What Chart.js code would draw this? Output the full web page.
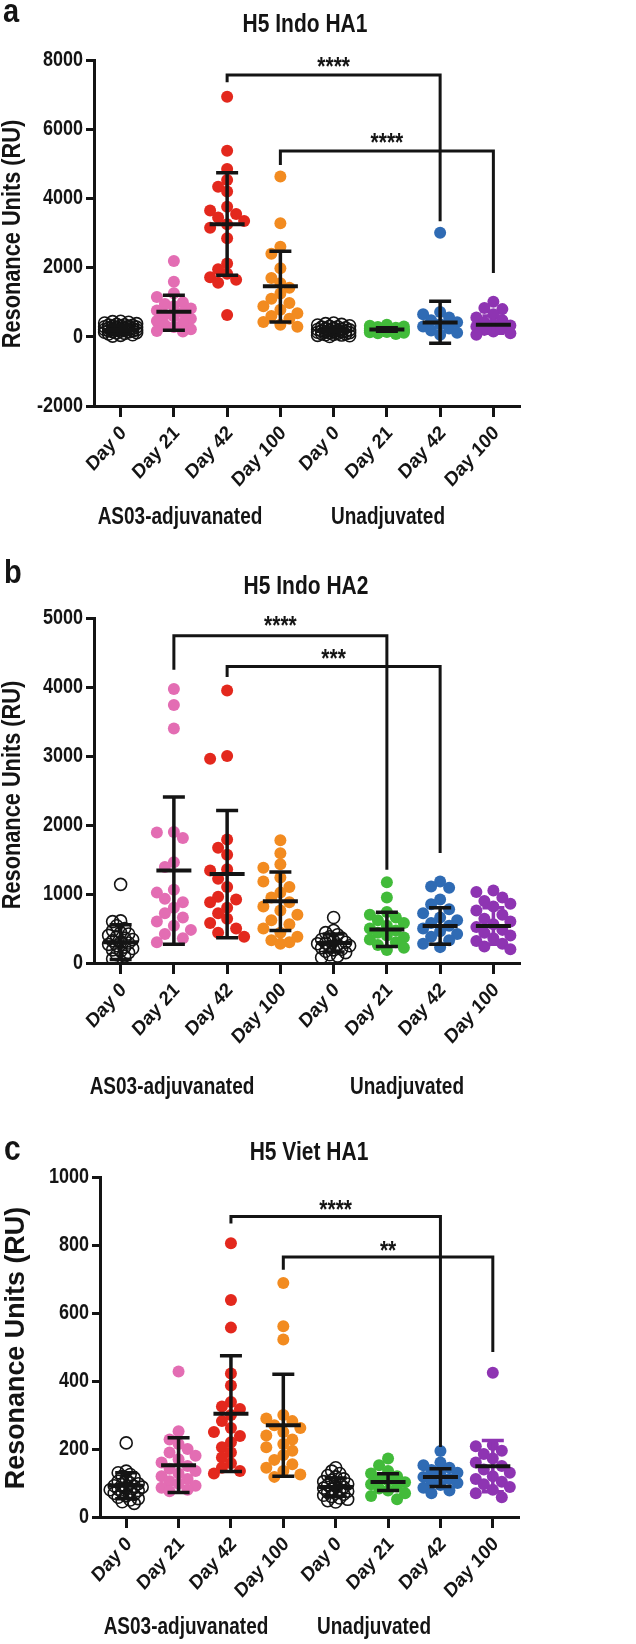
<!DOCTYPE html>
<html>
<head>
<meta charset="utf-8">
<script src="https://cdn.jsdelivr.net/npm/chart.js@4.4.1/dist/chart.umd.min.js"></script>
<style>
  html, body { margin: 0; padding: 0; background: #fff; }
  #wrap { position: relative; width: 636px; height: 1644px; }
  #wrap canvas { position: absolute; left: 0; }
</style>
</head>
<body>
<div id="wrap">
  <canvas id="pa" width="636" height="550" style="top:0px"></canvas>
  <canvas id="pb" width="636" height="555" style="top:550px"></canvas>
  <canvas id="pc" width="636" height="539" style="top:1105px"></canvas>
</div>
<script>
/* Resonance units per group */

// ── categories ───────────────────────────────────────────────────────────
var days   = ['Day 0', 'Day 21', 'Day 42', 'Day 100', 'Day 0', 'Day 21', 'Day 42', 'Day 100'];
var groups = ['AS03-adjuvanated', 'Unadjuvated'];

// ── a: H5 Indo HA1 ───────────────────────────────────────────────────────
var ha1Adj0   = [450, 440, 420, 400, 380, 360, 350, 340, 330, 320, 310, 300, 290, 280, 270, 260, 250, 240, 235, 230, 220, 210, 200, 190, 185, 180, 170, 160, 150, 140, 130, 120, 110, 100, 80, 60, 40, 20];
var ha1Adj21  = [2190, 1590, 1260, 1150, 1000, 950, 880, 820, 760, 700, 640, 590, 520, 460, 400, 340, 280, 220, 170, 150];
var ha1Adj42  = [6940, 5380, 4850, 4530, 4340, 4200, 3760, 3650, 3550, 3450, 3350, 3250, 3150, 2850, 2120, 1950, 1820, 1720, 1650, 1560, 630];
var ha1Adj100 = [4630, 3280, 2600, 2400, 1980, 1700, 1550, 1420, 1250, 1100, 980, 880, 780, 680, 600, 520, 430, 350, 290];
var ha1Un0    = [400, 380, 360, 340, 320, 300, 290, 280, 260, 250, 240, 225, 210, 200, 195, 180, 170, 160, 150, 145, 140, 130, 120, 110, 100, 90, 80, 70, 60, 50, 40, 30, 10];
var ha1Un21   = [350, 320, 300, 280, 260, 245, 230, 220, 210, 200, 190, 180, 170, 160, 150, 140, 130, 120, 100, 80];
var ha1Un42   = [3010, 720, 650, 560, 480, 420, 360, 300, 240, 180, 120, 60];
var ha1Un100  = [1010, 830, 800, 650, 560, 480, 420, 370, 330, 300, 250, 200, 150, 100, 60];
var ha1Mean   = [200, 723, 3250, 1460, 165, 210, 410, 350];
var ha1SdHi   = [320, 1200, 4740, 2470, 280, 260, 1030, 600];
var ha1SdLo   = [80, 190, 1780, 430, 50, 160, -190, 100];
var ha1Ticks  = [-2000, 8000, 2000];   // min, max, step

// ── b: H5 Indo HA2 ───────────────────────────────────────────────────────
var ha2Adj0   = [1140, 610, 600, 540, 500, 470, 440, 420, 400, 380, 360, 340, 320, 300, 290, 270, 250, 230, 210, 190, 170, 150, 120, 100, 60];
var ha2Adj21  = [3970, 3740, 3400, 1900, 1890, 1810, 1460, 1390, 1060, 1020, 930, 880, 800, 720, 660, 600, 540, 480, 420, 360, 300];
var ha2Adj42  = [3950, 3000, 2960, 1790, 1670, 1570, 1360, 1340, 1220, 1100, 960, 920, 880, 800, 720, 640, 580, 500, 440, 380];
var ha2Adj100 = [1780, 1590, 1430, 1380, 1240, 1180, 1100, 1020, 950, 880, 820, 760, 700, 620, 560, 500, 440, 380, 330, 300, 280];
var ha2Un0    = [660, 470, 440, 410, 380, 360, 340, 320, 300, 290, 280, 260, 250, 240, 220, 200, 190, 170, 150, 120, 100, 80];
var ha2Un21   = [1170, 950, 740, 700, 660, 620, 580, 540, 500, 470, 440, 400, 370, 340, 300, 260, 220, 190];
var ha2Un42   = [1180, 1110, 1090, 920, 850, 780, 720, 660, 620, 580, 540, 500, 460, 420, 380, 330, 280, 230];
var ha2Un100  = [1050, 1030, 950, 900, 860, 820, 760, 700, 640, 600, 560, 520, 480, 440, 400, 360, 320, 280, 240, 200];
var ha2Mean   = [300, 1340, 1290, 895, 290, 485, 535, 535];
var ha2SdHi   = [555, 2405, 2210, 1320, 420, 735, 800, 800];
var ha2SdLo   = [50, 270, 365, 470, 160, 240, 270, 270];
var ha2Ticks  = [0, 5000, 1000];

// ── c: H5 Viet HA1 ───────────────────────────────────────────────────────
var vhaAdj0   = [218, 135, 130, 125, 120, 115, 110, 105, 100, 98, 95, 92, 90, 88, 85, 82, 80, 78, 75, 72, 70, 66, 62, 58, 54, 50, 45, 40];
var vhaAdj21  = [428, 252, 228, 215, 200, 190, 180, 170, 160, 150, 142, 135, 128, 120, 112, 105, 98, 92, 86, 80, 76];
var vhaAdj42  = [805, 638, 557, 422, 387, 338, 325, 318, 300, 282, 262, 250, 238, 220, 205, 190, 175, 158, 145, 135, 128];
var vhaAdj100 = [688, 561, 522, 300, 290, 282, 270, 262, 250, 240, 228, 215, 205, 195, 182, 168, 155, 145, 135, 125, 118];
var vhaUn0    = [145, 135, 128, 122, 118, 112, 108, 104, 100, 97, 94, 91, 88, 85, 82, 79, 76, 73, 70, 67, 64, 60, 56, 52, 48, 44];
var vhaUn21   = [172, 152, 135, 128, 120, 114, 108, 102, 96, 90, 84, 78, 70, 62, 52];
var vhaUn42   = [194, 160, 152, 145, 138, 130, 124, 118, 112, 106, 100, 94, 86, 78, 70];
var vhaUn100  = [424, 212, 208, 195, 185, 172, 160, 150, 140, 130, 120, 112, 104, 96, 88, 80, 70, 58];
var vhaMean   = [92, 152, 304, 270, 88, 103, 118, 149];
var vhaSdHi   = [130, 233, 474, 420, 115, 127, 142, 225];
var vhaSdLo   = [54, 72, 134, 120, 61, 78, 90, 74];
var vhaTicks  = [0, 1000, 200];

// significance brackets: [from group, to group, top, left leg end, right leg end, stars, stars y]
var ha1Sig = [[2, 6, 7565, 7354, 3342, '****', 7933], [3, 7, 5371, 4966, 1846, '****', 5710]];
var ha2Sig = [[1, 5, 4743, 4250, 1352, '****', 4946], [2, 6, 4298, 4145, 1594, '***', 4468]];
var vhaSig = [[2, 6, 884, 863, 206, '****', 914], [3, 7, 765, 727, 485, '**', 794]];

// ── look ─────────────────────────────────────────────────────────────────
var INK    = '#141414';
var FONT   = '"Liberation Sans", Arial, Helvetica, sans-serif';
var COLORS = ['#141414', '#e36db3', '#e3281d', '#f28b20', '#141414', '#42bb3a', '#2f6bb4', '#8e34b2'];
var OPEN   = [true, false, false, false, true, false, false, false];
var WHISK  = [INK, INK, INK, INK, INK, INK, INK, '#8e34b2'];
var SY     = 1.22;   // the figure's lettering is taller than it is wide

function put(ctx, text, x, y, font, align, rot, sy) {
    ctx.save();
    ctx.translate(x, y);
    ctx.scale(1, sy || 1);
    if (rot) ctx.rotate(rot);
    ctx.font = font;
    ctx.textAlign = align;
    ctx.textBaseline = 'middle';
    ctx.fillText(text, 0, 0);
    ctx.restore();
}

// centred on the glyphs' own box (asterisks sit high in the em box)
function putCentered(ctx, text, x, y, font) {
    ctx.save();
    ctx.font = font;
    ctx.textAlign = 'center';
    ctx.textBaseline = 'alphabetic';
    var m = ctx.measureText(text);
    ctx.translate(x, y);
    ctx.scale(1, SY);
    ctx.fillText(text, 0, (m.actualBoundingBoxAscent - m.actualBoundingBoxDescent) / 2);
    ctx.restore();
}

var meanSdPlugin = {
    id: 'meanSd',
    afterDatasetsDraw: function (chart, args, o) {
        var ctx = chart.ctx, xs = chart.scales.x, ys = chart.scales.y;
        ctx.save();
        ctx.lineCap = 'butt';
        o.mean.forEach(function (m, i) {
            var x = xs.getPixelForValue(i);
            var yh = ys.getPixelForValue(o.hi[i]), yl = ys.getPixelForValue(o.lo[i]);
            ctx.strokeStyle = WHISK[i];
            ctx.lineWidth = 3.5;
            ctx.beginPath();
            ctx.moveTo(x, yh); ctx.lineTo(x, yl);
            ctx.moveTo(x - 11, yh); ctx.lineTo(x + 11, yh);
            ctx.moveTo(x - 11, yl); ctx.lineTo(x + 11, yl);
            ctx.stroke();
            var ym = ys.getPixelForValue(m);
            ctx.strokeStyle = INK;
            ctx.lineWidth = 4;
            ctx.beginPath();
            ctx.moveTo(x - 17.5, ym); ctx.lineTo(x + 17.5, ym);
            ctx.stroke();
        });
        ctx.restore();
    }
};

var textPlugin = {
    id: 'panelText',
    afterDraw: function (chart, args, o) {
        var ctx = chart.ctx, xs = chart.scales.x, ys = chart.scales.y, ca = chart.chartArea;
        ctx.save();
        ctx.fillStyle = INK;
        put(ctx, o.letter, o.letterAt[0], o.letterAt[1], 'bold ' + o.letterSize + 'px ' + FONT, 'left', 0, 1.15);
        put(ctx, o.title, o.titleAt[0], o.titleAt[1], 'bold 21px ' + FONT, 'center', 0, SY);
        put(ctx, 'Resonance Units (RU)', o.yTitleAt[0], o.yTitleAt[1], 'bold ' + o.yTitleSize + 'px ' + FONT, 'center', -Math.PI / 2, o.yTitleLen);

        ys.ticks.forEach(function (t) {
            put(ctx, String(t.value), ca.left - 11, ys.getPixelForValue(t.value), 'bold 18px ' + FONT, 'right', 0, 1.18);
        });
        days.forEach(function (d, i) {
            put(ctx, d, xs.getPixelForValue(i) + 3, ca.bottom + 24, 'bold 18px ' + FONT, 'right', -Math.PI / 4, 1.12);
        });
        groups.forEach(function (g, i) {
            put(ctx, g, o.groupAt[i][0], o.groupAt[i][1], 'bold 19px ' + FONT, 'center', 0, SY);
        });
        o.sig.forEach(function (s) {
            putCentered(ctx, s[5], xs.getPixelForValue((s[0] + s[1]) / 2), ys.getPixelForValue(s[6]), 'bold 21px ' + FONT);
        });
        ctx.restore();
    }
};

// spread points sideways so that close values do not sit on each other;
// the open Day 0 circles are packed tighter, as in the figure
function swarm(vals, xs, ys, open) {
    var step = xs.getPixelForValue(1) - xs.getPixelForValue(0);
    var offs = open ? [0, -4, 4, -8, 8, -12, 12, -16, 16] : [0, -9, 9, -17, 17];
    var gap = open ? 5 : 10;
    var placed = [], out = [];
    var idx = vals.map(function (v, i) { return i; }).sort(function (a, b) { return vals[b] - vals[a]; });
    idx.forEach(function (i) {
        var py = ys.getPixelForValue(vals[i]);
        var best = 0, bestD = -1;
        for (var k = 0; k < offs.length; k++) {
            var d = Infinity;
            placed.forEach(function (p) { d = Math.min(d, Math.hypot(p.x - offs[k], p.y - py)); });
            if (d >= gap) { best = offs[k]; break; }
            if (d > bestD) { bestD = d; best = offs[k]; }
        }
        placed.push({ x: best, y: py });
        out[i] = best / step;
    });
    return out;
}

function makePanel(id, cfg) {
    var datasets = [];
    cfg.sig.forEach(function (s) {
        datasets.push({
            type: 'line',
            data: [{ x: s[0], y: s[3] }, { x: s[0], y: s[2] }, { x: s[1], y: s[2] }, { x: s[1], y: s[4] }],
            borderColor: INK, borderWidth: 3, pointRadius: 0, tension: 0, fill: false,
            borderJoinStyle: 'miter', order: 0
        });
    });
    cfg.values.forEach(function (vals, i) {
        datasets.push({
            type: 'scatter',
            data: vals.map(function (v) { return { x: i, y: v }; }),
            pointRadius: 6,
            pointHoverRadius: 6,
            backgroundColor: OPEN[i] ? 'rgba(0,0,0,0)' : COLORS[i],
            borderColor: COLORS[i],
            borderWidth: OPEN[i] ? 1.6 : 0,
            order: 1
        });
    });

    var ca = cfg.area;
    var chart = new Chart(document.getElementById(id), {
        data: { datasets: datasets },
        options: {
            responsive: false,
            animation: false,
            events: [],
            layout: { padding: { left: 0, right: 636 - ca.right, top: ca.top, bottom: 0 } },
            plugins: {
                legend: { display: false },
                tooltip: { enabled: false },
                meanSd: { mean: cfg.mean, hi: cfg.hi, lo: cfg.lo },
                panelText: cfg.text
            },
            scales: {
                x: {
                    type: 'linear', min: -0.5, max: 7.5,
                    afterBuildTicks: function (s) { s.ticks = days.map(function (d, i) { return { value: i }; }); },
                    afterFit: function (s) { s.height = cfg.height - ca.bottom; },
                    ticks: { display: false },
                    grid: { drawOnChartArea: false, drawTicks: true, tickLength: 11, tickWidth: 3, tickColor: INK, color: INK },
                    border: { display: true, width: 3, color: INK }
                },
                y: {
                    type: 'linear', min: cfg.ticks[0], max: cfg.ticks[1],
                    ticks: { display: false, stepSize: cfg.ticks[2] },
                    afterFit: function (s) { s.width = ca.left; },
                    grid: { drawOnChartArea: false, drawTicks: true, tickLength: 8, tickWidth: 3, tickColor: INK, color: INK },
                    border: { display: true, width: 3, color: INK }
                }
            }
        },
        plugins: [meanSdPlugin, textPlugin]
    });

    var xs = chart.scales.x, ys = chart.scales.y, n = cfg.sig.length;
    cfg.values.forEach(function (vals, i) {
        var off = swarm(vals, xs, ys, OPEN[i]);
        chart.data.datasets[n + i].data = vals.map(function (v, k) { return { x: i + off[k], y: v }; });
    });
    chart.update('none');
    return chart;
}

makePanel('pa', {
    height: 550, area: { left: 94, right: 520, top: 60, bottom: 406 },
    values: [ha1Adj0, ha1Adj21, ha1Adj42, ha1Adj100, ha1Un0, ha1Un21, ha1Un42, ha1Un100],
    mean: ha1Mean, hi: ha1SdHi, lo: ha1SdLo, ticks: ha1Ticks, sig: ha1Sig,
    text: {
        letter: 'a', letterAt: [3, 13], letterSize: 29,
        title: 'H5 Indo HA1', titleAt: [305, 25],
        yTitleAt: [13, 234], yTitleSize: 25, yTitleLen: 0.87,
        groupAt: [[180, 518], [388, 518]], sig: ha1Sig
    }
});

makePanel('pb', {
    height: 555, area: { left: 94, right: 520, top: 68, bottom: 413 },
    values: [ha2Adj0, ha2Adj21, ha2Adj42, ha2Adj100, ha2Un0, ha2Un21, ha2Un42, ha2Un100],
    mean: ha2Mean, hi: ha2SdHi, lo: ha2SdLo, ticks: ha2Ticks, sig: ha2Sig,
    text: {
        letter: 'b', letterAt: [4, 24], letterSize: 29,
        title: 'H5 Indo HA2', titleAt: [306, 37],
        yTitleAt: [13, 245], yTitleSize: 25, yTitleLen: 0.87,
        groupAt: [[172, 538], [407, 538]], sig: ha2Sig
    }
});

makePanel('pc', {
    height: 539, area: { left: 100, right: 519, top: 72, bottom: 412 },
    values: [vhaAdj0, vhaAdj21, vhaAdj42, vhaAdj100, vhaUn0, vhaUn21, vhaUn42, vhaUn100],
    mean: vhaMean, hi: vhaSdHi, lo: vhaSdLo, ticks: vhaTicks, sig: vhaSig,
    text: {
        letter: 'c', letterAt: [4, 45], letterSize: 30,
        title: 'H5 Viet HA1', titleAt: [309, 48],
        yTitleAt: [16, 243], yTitleSize: 28, yTitleLen: 0.96,
        groupAt: [[186, 523], [374, 523]], sig: vhaSig
    }
});
</script>
</body>
</html>
